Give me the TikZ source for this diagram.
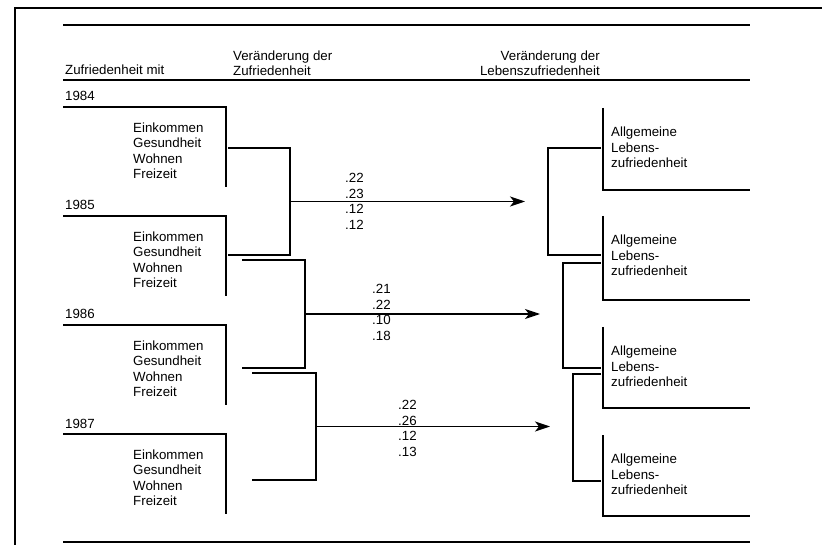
\documentclass[tikz,border=0pt]{standalone}
\usepackage{fontspec}
\setmainfont{Liberation Sans}
\usetikzlibrary{arrows.meta}

\tikzset{
  schrift/.style={font=\fontsize{13.3}{15.5}\selectfont, inner sep=0pt},
  linie/.style={line width=1.1pt},
  regel/.style={line width=1.4pt},
  pfeil/.style={line width=1.3pt, -{Stealth[length=15pt,width=10pt,inset=4pt]}}
}

\begin{document}
\begin{tikzpicture}[x=1pt,y=-1pt]
\useasboundingbox (0,0) rectangle (822,545);

% Frame
\draw[linie] (15,545) -- (15,8) -- (822,8);

% Rules
\draw[regel] (63,25) -- (750,25);
\draw[regel] (63,80) -- (750,80);
\draw[regel] (63,542) -- (750,542);

% Headers
\node[schrift, anchor=base west] (kopfa) at (65,74.5) {Zufriedenheit mit};
\node[schrift, anchor=north west, align=left] (kopfb) at (233,50.5) {Veränderung der\\Zufriedenheit};
\node[schrift, anchor=north east, align=right] (kopfc) at (600,50.5) {Veränderung der\\Lebenszufriedenheit};

% Left blocks
\foreach \yr/\t [count=\i] in {1984/107,1985/216,1986/325,1987/434} {
  \node[schrift, anchor=base west] (jahr\i) at (65,\t-6) {\yr};
  \draw[linie] (63,\t) -- (226,\t) -- (226,{\t+80});
  \node[schrift, anchor=north west, align=left] (zuf\i) at (133,{\t+15.5})
    {Einkommen\\Gesundheit\\Wohnen\\Freizeit};
}

% Right blocks
\foreach \t/\h [count=\i] in {108/82,216/84,327/81,435/81} {
  \draw[linie] (603,\t) -- (603,{\t+\h}) -- (750,{\t+\h});
  \node[schrift, anchor=north west, align=left] (lz\i) at (611,{\t+19})
    {Allgemeine\\Lebens-\\zufriedenheit};
}

% Left brackets, arrows and coefficients
\foreach \i/\xa/\xb/\ya/\yb/\xe/\xk/\yk/\werte in {
  1/228/290/148/255/525/345/173.5/{.22\\.23\\.12\\.12},
  2/242/305/260/368/540/372/284.5/{.21\\.22\\.10\\.18},
  3/252/316/373/480/550/398/400.5/{.22\\.26\\.12\\.13}} {
  \draw[linie] (\xa,\ya) -- (\xb,\ya) -- (\xb,\yb) -- (\xa,\yb);
  \coordinate (von\i) at (\xb,{(\ya+\yb)/2});
  \coordinate (nach\i) at (\xe,{(\ya+\yb)/2});
  \draw[pfeil] (von\i) -- (nach\i);
  \node[schrift, anchor=north west, align=left] (koef\i) at (\xk,\yk) {\werte};
}

% Right brackets
\foreach \xv/\ya/\yb in {548/148/255, 563/263/368, 573/374/481} {
  \draw[linie] (601,\ya) -- (\xv,\ya) -- (\xv,\yb) -- (601,\yb);
}

\end{tikzpicture}
\end{document}
